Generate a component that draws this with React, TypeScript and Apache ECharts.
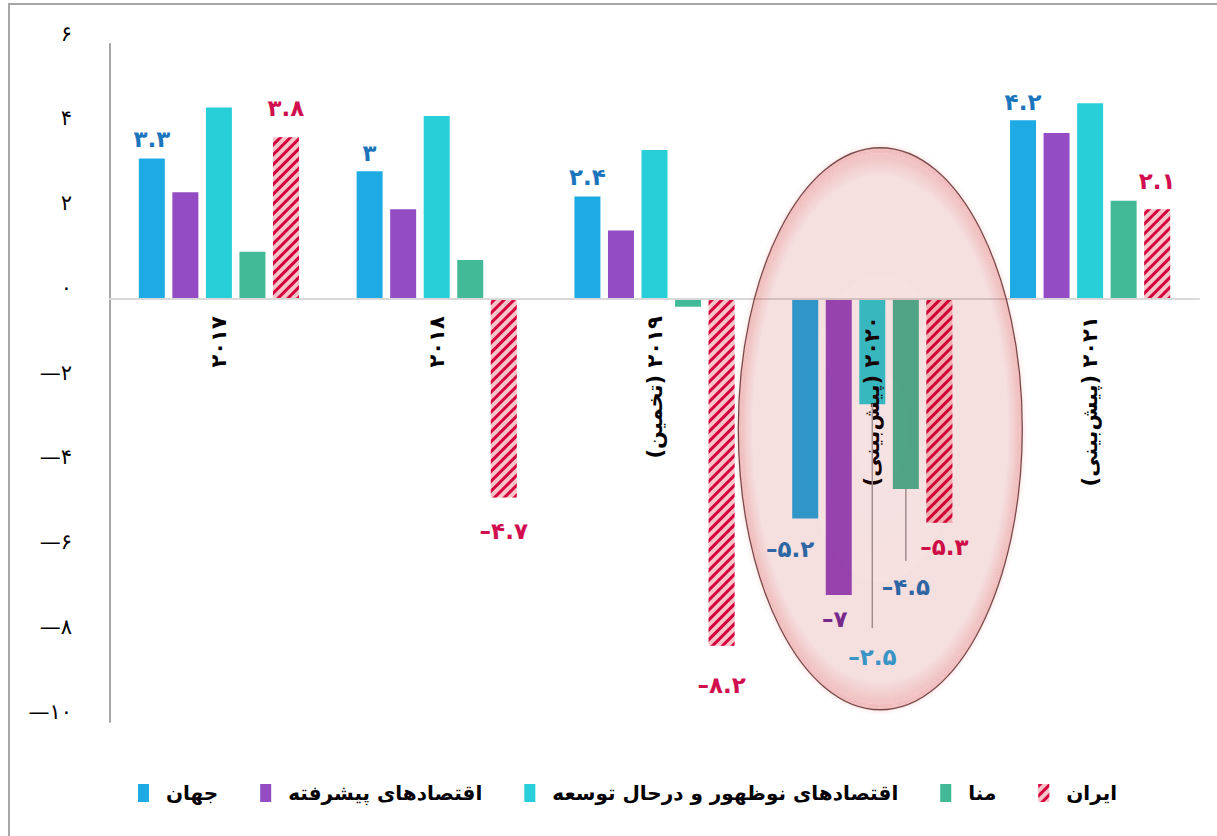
import React, { useEffect, useRef } from "react";
import * as echarts from "echarts";

const categories = ["۲۰۱۷", "۲۰۱۸", "۲۰۱۹ (تخمین)", "۲۰۲۰ (پیش‌بینی)", "۲۰۲۱ (پیش‌بینی)"];
const seriesNames = ["جهان", "اقتصادهای پیشرفته", "اقتصادهای نوظهور و درحال توسعه", "منا", "ایران"];
const world = [3.3, 3.0, 2.4, -5.2, 4.2];
const advanced = [2.5, 2.1, 1.6, -7.0, 3.9];
const emerging = [4.5, 4.3, 3.5, -2.5, 4.6];
const mena = [1.1, 0.9, -0.2, -4.5, 2.3];
const iran = [3.8, -4.7, -8.2, -5.3, 2.1];
const yMin = -10;
const yMax = 6;
const yStep = 2;

const FONT = "DejaVu Sans";
const faDigits = "۰۱۲۳۴۵۶۷۸۹";
const toFa = (v: number, dash = "–") =>
  String(v)
    .replace(/[0-9]/g, (d) => faDigits[Number(d)])
    .replace("-", dash);
const rtl = (s: string) => "\u202B" + s + "\u202C";

const colors = ["#1eabe3", "#944cc5", "#28cfd8", "#43ba97", "#fac5c8"];
const labelColors = ["#1b75bc", "#7030a0", "#27a9e1", "#1b75bc", "#d10f4f"];

// which items show labels and their nudges (styling only)
const labelOffsets: Record<number, Record<number, number[]>> = {
  0: { 0: [0, -3], 1: [0, -2], 2: [0, -3], 3: [-15, 14], 4: [0, -2] },
  1: { 3: [-4, 8] },
  2: { 3: [0, 236] },
  3: { 3: [0, 82] },
  4: { 0: [0, -13], 1: [0, 17], 2: [0, 23], 3: [5, 8], 4: [0, -12] },
};

export default function App() {
  const ref = useRef<HTMLDivElement>(null);
  useEffect(() => {
    if (!ref.current) return;
    const chart = echarts.init(ref.current, null, { renderer: "svg" });
    const allSeries = [world, advanced, emerging, mena, iran];
    const series = allSeries.map((vals, si) => ({
      name: seriesNames[si],
      type: "bar",
      barWidth: 26,
      barGap: "29%",
      itemStyle:
        si === 4
          ? {
              color: colors[4],
              decal: {
                symbol: "rect",
                symbolSize: 1,
                color: "#d4003d",
                dashArrayX: [1, 0],
                dashArrayY: [3, 4],
                rotation: -Math.PI / 4,
              },
            }
          : { color: colors[si] },
      data: vals.map((v, di) => {
        const off = labelOffsets[si][di];
        return {
          value: v,
          label: off
            ? {
                show: true,
                position: v >= 0 ? "top" : "bottom",
                distance: 5,
                offset: off,
                formatter: () => toFa(v),
                fontSize: 23,
                fontWeight: "bold",
                fontFamily: FONT,
                color: labelColors[si],
              }
            : { show: false },
        };
      }),
    }));

    chart.setOption({
      animation: false,
      backgroundColor: "#ffffff",
      textStyle: { fontFamily: FONT },
      grid: {
        left: 110,
        right: 18,
        top: 44,
        bottom: 114,
        containLabel: false,
        outerBoundsMode: "none",
      },
      legend: {
        bottom: 28,
        left: 133,
        itemWidth: 11,
        itemHeight: 18,
        itemGap: 42,
        icon: "rect",
        textStyle: {
          fontSize: 20,
          fontWeight: "bold",
          color: "#000",
          fontFamily: FONT,
          padding: [0, 0, 0, 12],
        },
        data: seriesNames,
      },
      xAxis: {
        type: "category",
        z: 5,
        data: categories.map(rtl),
        axisLine: { onZero: false, lineStyle: { color: "#d9d9d9", width: 2 } },
        axisTick: { show: false },
        splitLine: { show: false },
        axisLabel: {
          rotate: 90,
          interval: 0,
          fontSize: 21,
          fontWeight: "bold",
          color: "#000",
          margin: 18,
          fontFamily: FONT,
        },
      },
      yAxis: {
        type: "value",
        min: yMin,
        max: yMax,
        interval: yStep,
        axisLine: { show: true, lineStyle: { color: "#a6a6a6", width: 2 } },
        axisTick: { show: false },
        splitLine: { show: false },
        axisLabel: {
          formatter: (v: number) => toFa(v, "—"),
          fontSize: 21,
          color: "#000",
          margin: 38,
          verticalAlign: "bottom",
          fontFamily: FONT,
        },
      },
      series,
    });

    // move the category axis to the zero line, using the value axis scale
    const zeroY = chart.convertToPixel({ yAxisIndex: 0 } as any, 0) as number;
    const bottomY = chart.convertToPixel({ yAxisIndex: 0 } as any, yMin) as number;
    chart.setOption({ xAxis: { offset: -(bottomY - zeroY) } });

    // annotations computed from the chart's own scales
    const model = (chart as any).getModel();
    const lay = (si: number, di: number) => model.getSeriesByIndex(si).getData().getItemLayout(di);
    const leader = (si: number, di: number, extra: number) => {
      const l = lay(si, di);
      const x = l.x + l.width / 2;
      const yb = Math.max(l.y, l.y + l.height);
      return {
        type: "line",
        z: 50,
        shape: { x1: x, y1: yb, x2: x, y2: yb + extra },
        style: { stroke: "#a0a0a0", lineWidth: 1.5 },
      };
    };
    const cy = chart.convertToPixel({ yAxisIndex: 0 } as any, -3.08) as number;
    const l3 = lay(2, 3);
    const cx = l3.x + l3.width / 2 + 8;
    chart.setOption({
      graphic: [
        { type: "line", z: 200, shape: { x1: 9, y1: 3, x2: 9, y2: 836 }, style: { stroke: "#a6a6a6", lineWidth: 2 } },
        { type: "line", z: 200, shape: { x1: 8, y1: 4, x2: 1217, y2: 4 }, style: { stroke: "#a6a6a6", lineWidth: 2 } },
        leader(2, 3, 224),
        leader(3, 3, 72),
        {
          type: "ellipse",
          z: 100,
          silent: true,
          shape: { cx: cx, cy: cy, rx: 142, ry: 281 },
          style: {
            fill: {
              type: "radial",
              x: 0.5,
              y: 0.5,
              r: 0.5,
              colorStops: [
                { offset: 0, color: "rgba(170,0,0,0.09)" },
                { offset: 0.9, color: "rgba(170,0,0,0.10)" },
                { offset: 1, color: "rgba(210,30,30,0.22)" },
              ],
            },
            stroke: "rgba(90,40,40,0.8)",
            lineWidth: 1.3,
            shadowColor: "rgba(200,0,0,0.3)",
            shadowBlur: 5,
          },
        },
      ],
    });

    return () => chart.dispose();
  }, []);
  return (
    <div
      ref={ref}
      style={{ position: "absolute", left: 0, top: 0, width: 1217, height: 836 }}
    />
  );
}
